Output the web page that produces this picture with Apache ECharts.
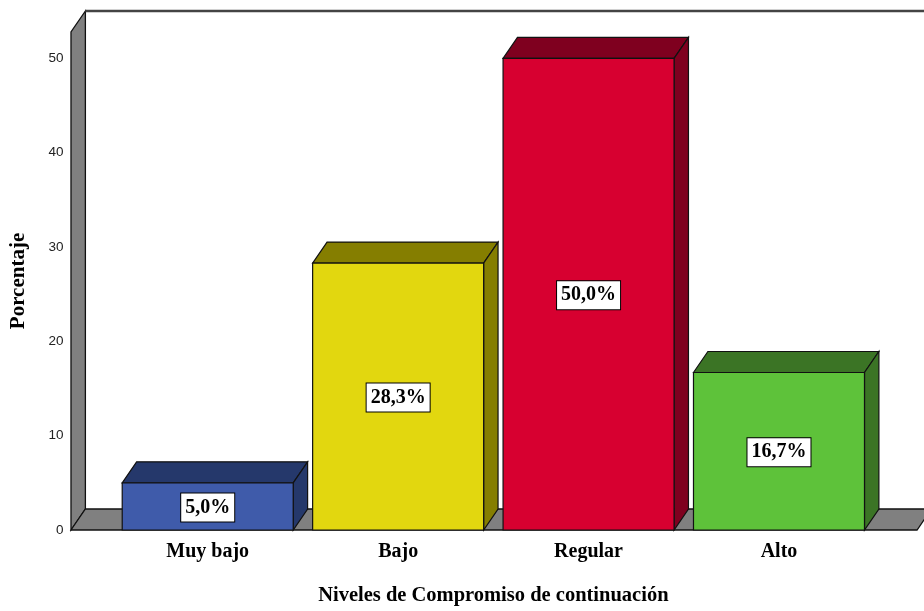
<!DOCTYPE html>
<html><head><meta charset="utf-8">
<script src="https://cdn.jsdelivr.net/npm/echarts@6/dist/echarts.min.js"></script>
<style>html,body{margin:0;padding:0;background:#fff}#c{width:924px;height:611px}</style>
</head><body><div id="c"></div>
<script>
const categories = ['Muy bajo', 'Bajo', 'Regular', 'Alto'];
const values = [5.0, 28.3, 50.0, 16.7];
const labels = ['5,0%', '28,3%', '50,0%', '16,7%'];
const yTicks = [0, 10, 20, 30, 40, 50];
const frontColors = ['#3F5BAA', '#E2D70F', '#D70030', '#5EC23A'];
const sideColors = ['#25386B', '#857E00', '#7F001F', '#3B7425'];
const yMax = 52.8;
const DX = 14.4, DY = -21;
const serif = "'Liberation Serif','Times New Roman',serif";
const LINE = '#111';

const chart = echarts.init(document.getElementById('c'), null, {renderer: 'canvas'});

const frameSeries = {
  type: 'custom', silent: true, z: 1, clip: false,
  data: [[0, 0]],
  renderItem(params, api) {
    const band = api.size([1, 0])[0];
    const x0 = api.coord([0, 0])[0] - 0.718 * band;
    const x1 = api.coord([categories.length - 1, 0])[0] + 0.725 * band;
    const yb = api.coord([0, 0])[1];
    const yt = api.coord([0, yMax])[1];
    const W = x1 + 300;
    const st = {fill: '#808080', stroke: LINE, lineWidth: 1.3};
    return {type: 'group', children: [
      {type: 'polygon', shape: {points: [[x0, yb], [x0, yt], [x0 + DX, yt + DY], [x0 + DX, yb + DY]]}, style: st},
      {type: 'polygon', shape: {points: [[x0, yb], [x0 + DX, yb + DY], [x1 + DX, yb + DY], [x1, yb]]}, style: st},
      {type: 'polyline', shape: {points: [[x0 + DX, yt + DY], [W, yt + DY]]}, style: {stroke: '#444', lineWidth: 2.5, fill: null}}
    ]};
  }
};

const barSeries = {
  type: 'custom', silent: true, z: 2, clip: false,
  data: values.map((v, i) => [i, v]),
  renderItem(params, api) {
    const i = api.value(0);
    const c = api.coord([i, api.value(1)]);
    const base = api.coord([i, 0]);
    const band = api.size([1, 0])[0];
    const w = band * 0.898;
    const xl = c[0] - w / 2, xr = c[0] + w / 2, yt = c[1], yb = base[1];
    return {type: 'group', children: [
      {type: 'polygon', shape: {points: [[xl, yt], [xl + DX, yt + DY], [xr + DX, yt + DY], [xr, yt]]}, style: {fill: sideColors[i], stroke: LINE, lineWidth: 1.2}},
      {type: 'polygon', shape: {points: [[xr, yt], [xr + DX, yt + DY], [xr + DX, yb + DY], [xr, yb]]}, style: {fill: sideColors[i], stroke: LINE, lineWidth: 1.2}},
      {type: 'rect', shape: {x: xl, y: yt, width: w, height: yb - yt}, style: {fill: frontColors[i], stroke: LINE, lineWidth: 1.2}},
      {type: 'text', x: c[0], y: (yt + yb) / 2 + 1, style: {
        text: labels[i], font: 'bold 20px ' + serif, fill: '#000', align: 'center', verticalAlign: 'middle',
        backgroundColor: '#fff', borderColor: '#000', borderWidth: 1, padding: [5, 4, 3, 4]
      }}
    ]};
  }
};

chart.setOption({
  animation: false,
  grid: {left: 112.5, right: 49.8, top: 32, bottom: 76},
  xAxis: {
    type: 'category', data: categories,
    axisLine: {show: false}, axisTick: {show: false}, splitLine: {show: false},
    axisLabel: {margin: 12, color: '#000', fontFamily: serif, fontWeight: 'bold', fontSize: 20},
    name: 'Niveles de Compromiso de continuación', nameLocation: 'middle', nameGap: 55,
    nameTextStyle: {color: '#000', fontFamily: serif, fontWeight: 'bold', fontSize: 20.5}
  },
  yAxis: {
    type: 'value', min: 0, max: yMax, interval: 10,
    axisLine: {show: false}, axisTick: {show: false}, splitLine: {show: false},
    axisLabel: {margin: 49, color: '#222', fontFamily: "'Liberation Sans',Arial,sans-serif", fontSize: 13.5,
      formatter: v => (yTicks.indexOf(v) >= 0 ? String(v) : '')},
    name: 'Porcentaje', nameLocation: 'middle', nameGap: 83,
    nameTextStyle: {color: '#000', fontFamily: serif, fontWeight: 'bold', fontSize: 21}
  },
  series: [frameSeries, barSeries]
});
</script></body></html>
